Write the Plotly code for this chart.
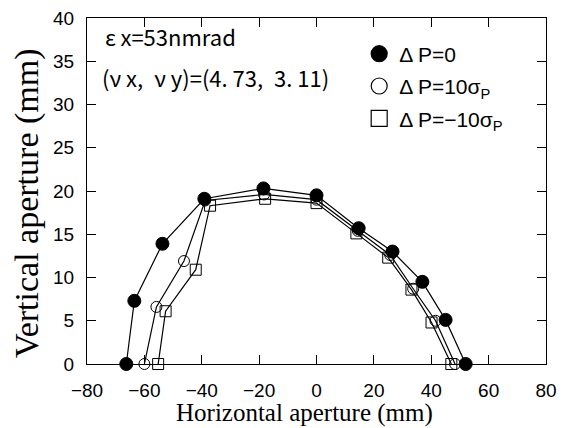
import plotly.graph_objects as go

# Data
x_dp0 = [-66.3, -63.5, -53.7, -39.1, -18.5, 0.0, 14.7, 26.5, 36.9, 45.0, 52.0]
y_dp0 = [0.0, 7.3, 13.9, 19.1, 20.3, 19.5, 15.7, 13.0, 9.5, 5.1, 0.0]

x_dp10 = [-60.0, -55.8, -46.2, -38.8, -18.3, 0.0, 14.4, 25.7, 33.7, 41.5, 48.3]
y_dp10 = [0.0, 6.6, 11.9, 18.9, 19.6, 19.0, 15.4, 12.6, 8.7, 5.0, 0.0]

x_dpm10 = [-55.2, -52.6, -42.1, -37.1, -17.9, 0.0, 13.9, 25.0, 33.1, 40.1, 47.0]
y_dpm10 = [0.0, 6.1, 10.9, 18.3, 19.1, 18.6, 15.1, 12.3, 8.6, 4.8, 0.0]

names = ["Δ P=0", "Δ P=10σ<sub>P</sub>", "Δ P=−10σ<sub>P</sub>"]
x_ticks = [-80, -60, -40, -20, 0, 20, 40, 60, 80]
y_ticks = [0, 5, 10, 15, 20, 25, 30, 35, 40]

symbols = ["circle", "circle-open", "square-open"]
sizes = [13, 11, 11]

fig = go.Figure()
series = [(x_dp0, y_dp0), (x_dp10, y_dp10), (x_dpm10, y_dpm10)]
for i, (xs, ys) in enumerate(series):
    fig.add_trace(go.Scatter(
        x=xs, y=ys, name=names[i], mode="lines+markers",
        line=dict(color="black", width=1.2),
        marker=dict(symbol=symbols[i], size=sizes[i], color="black",
                    line=dict(color="black", width=1)),
        showlegend=False, cliponaxis=False,
    ))
# legend entries (markers only, as in the reference)
for i in range(3):
    fig.add_trace(go.Scatter(
        x=[None], y=[None], name=names[i], mode="markers",
        marker=dict(symbol=symbols[i], size=16, color="black",
                    line=dict(color="black", width=1.2)),
        legendgroup=f"g{i}",
    ))

axis_common = dict(
    showgrid=False, zeroline=False, showline=True, linecolor="black", linewidth=1.2,
    mirror="ticks", ticks="inside", ticklen=9, tickwidth=1, tickcolor="black",
    tickfont=dict(family="Liberation Sans, Arial", size=19, color="black"),
    automargin=False, ticklabeloverflow="allow",
)
fig.update_xaxes(range=[-80, 80], tickvals=x_ticks, ticklabelstandoff=9, **axis_common)
fig.update_yaxes(range=[0, 40], tickvals=y_ticks, ticklabelstandoff=8, **axis_common)

# axis titles
fig.add_annotation(text="Horizontal aperture (mm)", xref="paper", yref="paper",
                   x=0.473, y=0, yshift=-49, xanchor="center", yanchor="middle",
                   showarrow=False,
                   font=dict(family="Liberation Serif, Times New Roman", size=25, color="black"))
fig.add_annotation(text="Vertical aperture (mm)", xref="paper", yref="paper",
                   x=0, xshift=-60, y=0.465, xanchor="center", yanchor="middle",
                   textangle=-90, showarrow=False,
                   font=dict(family="Liberation Serif, Times New Roman", size=34, color="black"))

ann_font = dict(family="Noto Sans CJK JP", size=22, color="black")
fig.add_annotation(text="ε\u2009x=53nmrad", xref="paper", yref="paper", x=0.035, y=0.948,
                   xanchor="left", yanchor="middle", showarrow=False, font=ann_font)
fig.add_annotation(text="(ν x,\u2002ν y)=(4. 73,\u20023. 11)", xref="paper", yref="paper",
                   x=0.028, y=0.83, xanchor="left", yanchor="middle", showarrow=False, font=ann_font)

# the page body adds an 8 px offset; figure is sized so the plot area lands
# at x 87-546, y 18-364 of the window
fig.update_layout(
    width=557, height=420,
    margin=dict(l=79, r=19, t=10, b=64),
    plot_bgcolor="white", paper_bgcolor="white",
    legend=dict(x=0.593, y=0.955, xanchor="left", yanchor="top",
                font=dict(family="Liberation Sans, Arial", size=21, color="black"),
                bgcolor="rgba(0,0,0,0)", tracegroupgap=2, itemsizing="trace"),
    showlegend=True,
)
fig.write_html("out.html")
